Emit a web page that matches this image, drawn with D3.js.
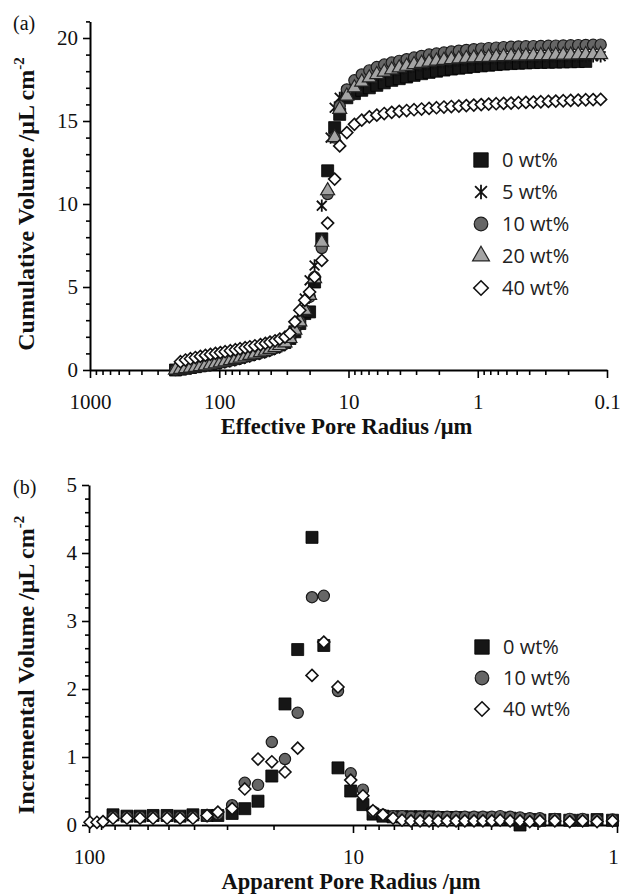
<!DOCTYPE html>
<html>
<head>
<meta charset="utf-8">
<script src="https://cdn.jsdelivr.net/npm/d3@7"></script>
<style>
  body { margin: 0; background: #fff; }
  svg { display: block; background: #fff; }
  .axis path { stroke: #000; stroke-width: 2px; }
  .axis line { stroke: #000; stroke-width: 1.6px; }
  .axis text { font-family: "Liberation Serif", "Times New Roman", serif; font-size: 21px; fill: #111; }
  .title { font-family: "Liberation Serif", "Times New Roman", serif; font-weight: bold; font-size: 24px; fill: #111; }
  .x-title { font-size: 22.5px; }
  .panel-label { font-family: "Liberation Serif", "Times New Roman", serif; font-size: 20px; fill: #111; }
  .legend text { font-family: "Open Sans", sans-serif; font-size: 20px; fill: #222; }
</style>
</head>
<body>
<div id="chart"></div>
<script>
(function() {
  var width = 621,
      height = 894;

  // ---- panel (a): cumulative volume vs effective pore radius (um)
  const radiusA = [218, 199.5, 182.5, 167, 153, 140, 128, 117, 107, 98, 90, 82, 75, 69, 63, 58, 53, 48, 44, 40.5, 37, 34, 31, 28.4,
    26, 23.8, 21.8, 20, 18.3,
    17.0, 16.1, 15.3, 14.5, 13.75, 12.8, 11.7,
    10.3, 9.0, 7.9, 6.9, 6.04, 5.29, 4.63, 4.05, 3.55, 3.11, 2.72, 2.38, 2.085, 1.826, 1.6, 1.4, 1.226, 1.073, 0.94, 0.823,
    0.72, 0.631, 0.552, 0.484, 0.424, 0.371, 0.325, 0.284, 0.249, 0.218, 0.191, 0.167, 0.146, 0.128, 0.112];

  const cum0 = [0, 0.05, 0.1, 0.15, 0.2, 0.25, 0.3, 0.36, 0.42, 0.5, 0.56, 0.63, 0.7, 0.78, 0.86, 0.94, 1.02, 1.1, 1.2, 1.3, 1.4, 1.52, 1.66, 1.9,
    2.3, 2.8, 3.4, 3.5, 5.3,
    null, 7.9, null, 12.0, null, 14.6, 15.4,
    16.4, 16.65, 16.85, 17.0, 17.15, 17.3, 17.45, 17.55, 17.65, 17.75, 17.85, 17.93, 18.0, 18.07, 18.13, 18.18, 18.23, 18.28, 18.32, 18.36,
    18.4, 18.43, 18.46, 18.48, 18.5, 18.52, 18.53, 18.54, 18.55, 18.56, 18.57, 18.58, 18.59, null, null];
  const cum5 = [0, 0.03, 0.07, 0.11, 0.15, 0.2, 0.25, 0.3, 0.35, 0.41, 0.47, 0.53, 0.6, 0.67, 0.75, 0.83, 0.91, 1.0, 1.09, 1.19, 1.3, 1.43, 1.6, 1.85,
    2.6, 3.4, 4.3, 5.4, 6.3,
    null, 9.9, null, null, 14.0, 15.8, 16.4,
    16.8, 17.1, 17.35, 17.55, 17.72, 17.87, 18.0, 18.1, 18.2, 18.28, 18.35, 18.42, 18.48, 18.53, 18.58, 18.62, 18.66, 18.69, 18.72, 18.74,
    18.76, 18.78, 18.8, 18.81, 18.82, 18.83, 18.84, 18.85, 18.86, 18.87, 18.88, 18.88, 18.89, 18.9, 18.9];
  const cum10 = [0, 0.04, 0.08, 0.12, 0.17, 0.22, 0.28, 0.34, 0.4, 0.47, 0.54, 0.61, 0.68, 0.76, 0.84, 0.92, 1.0, 1.09, 1.18, 1.28, 1.39, 1.52, 1.68, 1.95,
    2.4, 2.9, 3.6, 4.4, 5.6,
    null, 7.35, null, 10.6, null, 14.0, 15.9,
    16.9, 17.45, 17.8, 18.05, 18.25, 18.4, 18.52, 18.62, 18.72, 18.82, 18.92, 19.0, 19.06, 19.12, 19.18, 19.23, 19.28, 19.32, 19.36, 19.39,
    19.42, 19.45, 19.47, 19.49, 19.5, 19.51, 19.52, 19.53, 19.54, 19.55, 19.56, 19.57, 19.58, 19.59, 19.6];
  const cum20 = [0, 0.04, 0.08, 0.12, 0.16, 0.21, 0.26, 0.32, 0.38, 0.44, 0.5, 0.57, 0.64, 0.72, 0.8, 0.88, 0.96, 1.05, 1.14, 1.24, 1.35, 1.48, 1.64, 1.9,
    2.4, 2.9, 3.6, 4.5, 5.5,
    null, 7.7, null, 10.8, null, 14.0, 15.7,
    16.5, 17.0, 17.35, 17.6, 17.8, 17.95, 18.08, 18.2, 18.3, 18.4, 18.48, 18.55, 18.61, 18.66, 18.7, 18.74, 18.77, 18.8, 18.82, 18.84,
    18.86, 18.88, 18.9, 18.91, 18.92, 18.93, 18.94, 18.95, 18.96, 18.97, 18.98, 18.99, 19.0, 19.0, 19.0];
  const cum40 = [null, 0.5, 0.6, 0.68, 0.75, 0.82, 0.88, 0.94, 1.0, 1.05, 1.1, 1.16, 1.22, 1.28, 1.34, 1.4, 1.46, 1.53, 1.6, 1.68, 1.76, 1.86, 1.98, 2.2,
    2.9, 3.6, 4.2, 4.7, 5.6,
    null, 6.6, null, 8.85, null, 11.5, 13.5,
    14.3, 14.8, 15.05, 15.25, 15.35, 15.45, 15.52, 15.58, 15.63, 15.68, 15.72, 15.76, 15.8, 15.84, 15.87, 15.9, 15.93, 15.96, 15.99, 16.02,
    16.04, 16.06, 16.08, 16.1, 16.12, 16.14, 16.16, 16.18, 16.2, 16.22, 16.24, 16.26, 16.28, 16.29, 16.3];

  // ---- panel (b): incremental volume vs apparent pore radius (um)
  const radiusB = [99.1, 93.3, 88.5, 81.1, 71.8, 64.1, 57.2, 50.6, 45.2, 40.4, 35.7, 32.5, 28.7, 25.7, 22.9, 20.3, 18.1, 16.2, 14.3, 12.9,
    11.4, 10.2, 9.17, 8.4, 7.7, 7.05, 6.52, 6.03, 5.57, 5.15, 4.76, 4.4, 4.07, 3.77, 3.48, 3.22, 2.98, 2.77, 2.54, 2.33,
    2.14, 1.96, 1.72, 1.51, 1.35, 1.19, 1.04];
  const inc0 = [null, null, null, 0.15, 0.13, 0.13, 0.14, 0.14, 0.13, 0.15, 0.14, 0.14, 0.17, 0.24, 0.35, 0.72, 1.78, 2.58, 4.23, 2.64,
    0.84, 0.5, 0.3, 0.16, 0.13, 0.12, 0.12, 0.12, 0.12, 0.12, 0.11, 0.11, 0.11, 0.1, 0.1, 0.1, 0.1, 0.1, 0.1, 0.0,
    0.08, 0.07, 0.08, 0.07, 0.07, 0.08, 0.07];
  const inc10 = [null, null, null, 0.12, 0.12, 0.12, 0.12, 0.12, 0.12, 0.12, 0.13, 0.16, 0.29, 0.62, 0.59, 1.22, 0.97, 1.65, 3.35, 3.37,
    1.97, 0.76, 0.52, 0.2, 0.15, 0.13, 0.13, 0.12, 0.12, 0.12, 0.12, 0.12, 0.12, 0.12, 0.12, 0.12, 0.12, 0.13, 0.12, 0.11,
    0.1, 0.1, 0.09, 0.09, 0.09, 0.08, 0.08];
  const inc40 = [0.04, 0.04, 0.05, 0.1, 0.1, 0.1, 0.1, 0.1, 0.1, 0.1, 0.14, 0.19, 0.24, 0.53, 0.97, 0.93, 0.78, 1.13, 2.2, 2.69,
    2.03, 0.66, 0.43, 0.21, 0.15, 0.1, 0.07, 0.06, 0.06, 0.06, 0.06, 0.06, 0.06, 0.06, 0.06, 0.06, 0.06, 0.07, 0.06, 0.06,
    0.05, 0.06, 0.06, 0.05, 0.06, 0.05, 0.06];

  // tick labels
  const xTicksA = [1000, 100, 10, 1, 0.1],
        yTicksA = [0, 5, 10, 15, 20],
        xTicksB = [100, 10, 1],
        yTicksB = [0, 1, 2, 3, 4, 5];

  // square rotated 45deg, like the spreadsheet marker
  var diamond = {
    draw(context, size) {
      var r = Math.sqrt(size / 2);
      context.moveTo(0, -r);
      context.lineTo(r, 0);
      context.lineTo(0, r);
      context.lineTo(-r, 0);
      context.closePath();
    }
  };
  var star = {
    draw(context, size) {
      var r = Math.sqrt(size) / 2,
          d = r * 0.8;
      context.moveTo(0, -r);
      context.lineTo(0, r);
      context.moveTo(-d, -d);
      context.lineTo(d, d);
      context.moveTo(-d, d);
      context.lineTo(d, -d);
    }
  };

  var markers = {
    square:   { type: d3.symbolSquare,   size: 144, fill: "#161616", stroke: "#000",    sw: 0.8 },
    star:     { type: star,              size: 150, fill: "none",    stroke: "#111",    sw: 1.8 },
    circle:   { type: d3.symbolCircle,   size: 100, fill: "#666",    stroke: "#1a1a1a", sw: 1.2 },
    triangle: { type: d3.symbolTriangle, size: 85,  fill: "#a4a4a4", stroke: "#222",    sw: 1.2 },
    diamond:  { type: diamond,           size: 72,  fill: "#fff",    stroke: "#111",    sw: 1.6 }
  };

  const seriesA = [
    { name: "0 wt%",  values: cum0,  marker: "square" },
    { name: "5 wt%",  values: cum5,  marker: "star" },
    { name: "10 wt%", values: cum10, marker: "circle" },
    { name: "20 wt%", values: cum20, marker: "triangle" },
    { name: "40 wt%", values: cum40, marker: "diamond" }
  ];
  const seriesB = [
    { name: "0 wt%",  values: inc0,  marker: "square" },
    { name: "10 wt%", values: inc10, marker: "circle" },
    { name: "40 wt%", values: inc40, marker: "diamond" }
  ];

  var svg = d3.select("#chart").append("svg")
      .attr("width", width)
      .attr("height", height);

  function symbolPath(m, scale) {
    return d3.symbol().type(m.type).size(m.size * (scale || 1))();
  }

  function drawPanel(p) {
    var x = d3.scaleLog()
        .domain(p.xDomain)
        .range([p.left, p.right]);

    var y = d3.scaleLinear()
        .domain(p.yDomain)
        .range([p.bottom, p.top]);

    var g = svg.append("g");

    // x axis: log ticks, labels only on the decades
    var xAxis = d3.axisBottom(x)
        .tickValues(x.ticks())
        .tickSize(5)
        .tickSizeOuter(0)
        .tickPadding(19)
        .tickFormat(d => p.xTicks.includes(d) ? d : "");

    g.append("g")
        .attr("class", "x axis")
        .attr("transform", "translate(0," + p.bottom + ")")
        .call(xAxis)
        .call(a => a.selectAll(".tick line")
          .filter(d => p.xTicks.includes(d))
          .attr("y2", 8))
        // last label sits on the page edge, nudge it in a little
        .call(a => a.selectAll(".tick text")
          .filter(d => d === p.xDomain[1])
          .attr("dx", p.lastLabelShift));

    var yAxis = d3.axisLeft(y)
        .tickValues(p.yMinor)
        .tickSize(4)
        .tickSizeOuter(0)
        .tickPadding(8)
        .tickFormat(d => p.yTicks.includes(d) ? d : "");

    g.append("g")
        .attr("class", "y axis")
        .attr("transform", "translate(" + p.left + ",0)")
        .call(yAxis)
        .call(a => a.selectAll(".tick line")
          .filter(d => p.yTicks.includes(d))
          .attr("x2", -7));

    // points, first series drawn first
    p.series.forEach(s => {
      var m = markers[s.marker];
      g.append("g")
          .selectAll("path")
          .data(s.values.map((v, i) => [p.radius[i], v]).filter(d => d[1] != null))
        .join("path")
          .attr("transform", d => `translate(${x(d[0])},${y(d[1])})`)
          .attr("d", symbolPath(m))
          .attr("fill", m.fill)
          .attr("stroke", m.stroke)
          .attr("stroke-width", m.sw);
    });

    // legend
    var legend = g.append("g")
        .attr("class", "legend")
        .selectAll("g")
        .data(p.series)
      .join("g")
        .attr("transform", (d, i) => `translate(${p.legendX},${p.legendY + i * p.legendStep})`);

    legend.append("path")
        .attr("d", d => symbolPath(markers[d.marker], 1.45))
        .attr("fill", d => markers[d.marker].fill)
        .attr("stroke", d => markers[d.marker].stroke)
        .attr("stroke-width", d => markers[d.marker].sw);

    legend.append("text")
        .attr("x", 21)
        .attr("dy", "0.36em")
        .text(d => d.name);

    // axis titles
    svg.append("text")
        .attr("class", "title x-title")
        .attr("x", (p.left + p.right) / 2 - 2)
        .attr("y", p.bottom + 64)
        .attr("text-anchor", "middle")
        .text(p.xTitle);

    var yt = svg.append("text")
        .attr("class", "title")
        .attr("transform", `translate(34,${p.yTitleMid}) rotate(-90)`)
        .attr("text-anchor", "middle");
    yt.append("tspan").text(p.yTitle);
    yt.append("tspan")
        .attr("font-size", 15)
        .attr("dy", -10)
        .text("-2");

    svg.append("text")
        .attr("class", "panel-label")
        .attr("x", 13)
        .attr("y", p.labelY)
        .text(p.label);
  }

  drawPanel({
    label: "(a)", labelY: 30,
    left: 90, right: 607, top: 21.4, bottom: 370,
    xDomain: [1000, 0.1], yDomain: [0, 21],
    xTicks: xTicksA, yTicks: yTicksA,
    yMinor: d3.range(0, 22),
    radius: radiusA, series: seriesA,
    legendX: 481, legendY: 160, legendStep: 32,
    lastLabelShift: 0,
    xTitle: "Effective Pore Radius /\u03bcm",
    yTitle: "Cumulative Volume /\u03bcL cm", yTitleMid: 204
  });

  drawPanel({
    label: "(b)", labelY: 494,
    left: 89, right: 617, top: 485, bottom: 825,
    xDomain: [100, 1], yDomain: [0, 5],
    xTicks: xTicksB, yTicks: yTicksB,
    yMinor: d3.range(0, 26).map(i => i / 5),
    radius: radiusB, series: seriesB,
    legendX: 482, legendY: 647, legendStep: 31,
    lastLabelShift: -4,
    xTitle: "Apparent Pore Radius /\u03bcm",
    yTitle: "Incremental Volume /\u03bcL cm", yTitleMid: 665
  });
})();
</script>
</body>
</html>
